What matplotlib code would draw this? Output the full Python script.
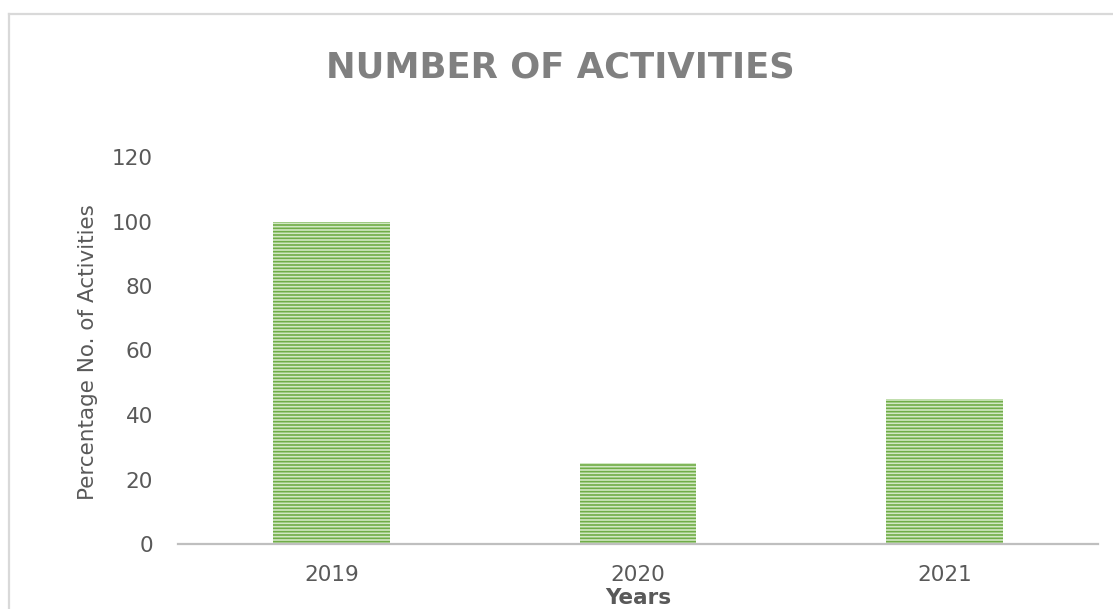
import matplotlib
matplotlib.use("Agg")
import matplotlib.pyplot as plt
from matplotlib.lines import Line2D

years = ["2019", "2020", "2021"]
values = [100, 25, 45]
yticks = [0, 20, 40, 60, 80, 100, 120]

title = "NUMBER OF ACTIVITIES"
ylabel = "Percentage No. of Activities"
xlabel = "Years"

plt.rcParams["font.family"] = ["DejaVu Sans"]
plt.rcParams["hatch.linewidth"] = 1.2

W, H = 1113, 609
fig = plt.figure(figsize=(W / 100, H / 100), dpi=100)
ax = fig.add_axes([178 / W, 1 - 544 / H, 920 / W, 387 / H])

x = list(range(len(years)))
ax.bar(x, values, width=0.38, color="#d2e8c4", edgecolor="#70ad47",
       hatch="-----", linewidth=0.0, zorder=2)

ax.set_xlim(-0.5, len(years) - 0.5)
ax.set_ylim(0, 120)
ax.set_yticks(yticks)
ax.set_xticks(x)
ax.set_xticklabels(years)

for s in ["top", "right", "left"]:
    ax.spines[s].set_visible(False)
ax.spines["bottom"].set_color("#bfbfbf")
ax.spines["bottom"].set_linewidth(1.6)
ax.spines["bottom"].set_zorder(3)

ax.tick_params(axis="both", length=0, labelsize=15.5, colors="#595959")
ax.tick_params(axis="y", pad=18)
ax.tick_params(axis="x", pad=15)

ax.set_ylabel(ylabel, fontsize=15.5, color="#595959", va="center")
ax.yaxis.set_label_coords(-0.098, 0.496)
ax.set_xlabel(xlabel, fontsize=15.5, color="#595959", fontweight="bold", va="center")
ax.xaxis.set_label_coords(0.5, -0.14)

fig.text(560 / W, 1 - 67 / H, title, fontsize=25.5, fontweight="bold",
         color="#808080", ha="center", va="center")

# chart area border (light gray)
fig.add_artist(Line2D([9 / W, 1.0], [1 - 14 / H, 1 - 14 / H],
                      transform=fig.transFigure, color="#d9d9d9", lw=1.6))
fig.add_artist(Line2D([9 / W, 9 / W], [1 - 14 / H, 0.0],
                      transform=fig.transFigure, color="#d9d9d9", lw=1.6))

fig.savefig("out.png", dpi=100)
